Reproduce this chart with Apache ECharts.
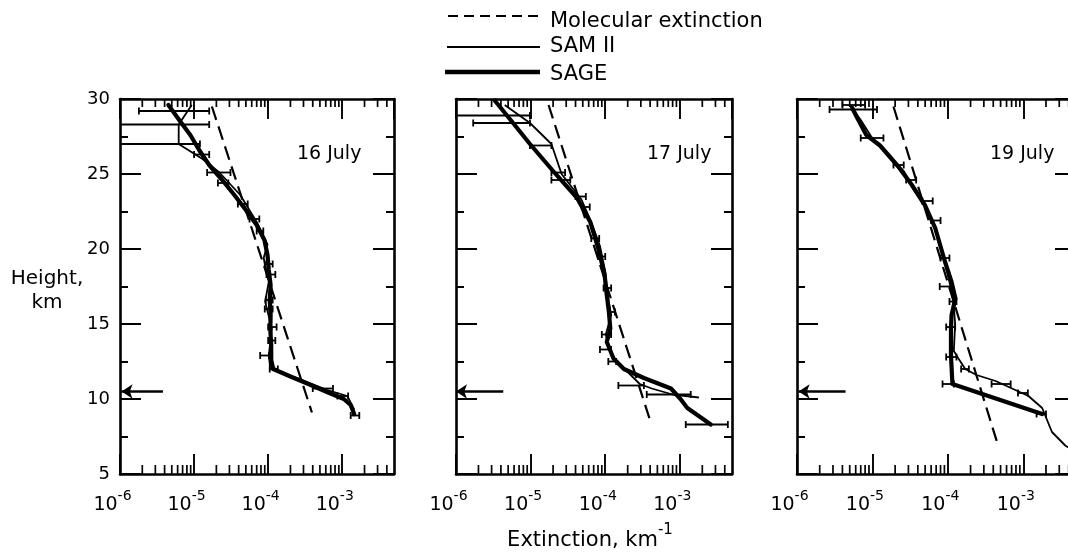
<!DOCTYPE html>
<html>
<head>
<meta charset="utf-8">
<title>Extinction profiles, 16-19 July</title>
<script src="https://cdn.jsdelivr.net/npm/echarts@6/dist/echarts.min.js"></script>
<style>
  html, body { margin: 0; padding: 0; background: #fff; }
  #chart { width: 1068px; height: 555px; }
</style>
</head>
<body>
<div id="chart"></div>
<script>
const panelTitles = ['16 July', '17 July', '19 July']
const xTickExps = [-6, -5, -4, -3]
const yTicks = [5, 10, 15, 20, 25, 30]
const legendLabels = ['Molecular extinction', 'SAM II', 'SAGE']

// tropopause arrow: [height km, from extinction, to extinction]
const tropopause = [[10.5, 3.8e-6, 1.05e-6], [10.5, 4.3e-6, 1.0e-6], [10.5, 4.4e-6, 1.05e-6]]

// profiles: [extinction km^-1, height km]
const molecular16 = [[1.74e-5, 29.5], [3.9e-4, 9.1]]
const molecular17 = [[1.74e-5, 29.6], [4.1e-4, 8.4]]
const molecular19 = [[1.9e-5, 29.5], [4.7e-4, 6.8]]

const sage16 = [[4.5e-6, 29.6], [6.3e-6, 28.6], [8.9e-6, 27.6], [1.17e-5, 26.6], [1.6e-5, 25.6],
  [2.4e-5, 24.6], [3.5e-5, 23.6], [5.0e-5, 22.6], [7.0e-5, 21.6], [8.9e-5, 20.6], [9.8e-5, 19.6],
  [1.02e-4, 18.6], [1.08e-4, 17.6], [1.05e-4, 16.6], [1.08e-4, 15.6], [1.07e-4, 14.6], [1.1e-4, 13.6],
  [1.1e-4, 12.6], [1.17e-4, 12.0], [2.0e-4, 11.5], [3.5e-4, 11.0], [6.0e-4, 10.5], [1.05e-3, 10.0],
  [1.3e-3, 9.6], [1.45e-3, 9.0]]
const sam16 = [[9.3e-6, 29.6], [6.2e-6, 28.3], [6.2e-6, 27.0], [1.3e-5, 26.0], [2.2e-5, 25.1],
  [4.2e-5, 23.6], [7.0e-5, 21.8], [9.8e-5, 20.3], [8.7e-5, 19.4], [1.02e-4, 17.8], [9.1e-5, 16.5],
  [1.12e-4, 14.7], [1.02e-4, 12.9], [1.07e-4, 12.0], [2.45e-4, 11.4], [6.3e-4, 10.6], [1.17e-3, 10.2],
  [1.45e-3, 9.3]]

const sage17 = [[3.3e-6, 29.9], [5.2e-6, 28.7], [9.8e-6, 27.0], [2.0e-5, 25.2], [4.2e-5, 23.4],
  [6.3e-5, 21.8], [8.1e-5, 20.0], [9.8e-5, 18.3], [1.05e-4, 16.9], [1.12e-4, 15.8], [1.17e-4, 14.7],
  [1.05e-4, 13.8], [1.29e-4, 12.7], [1.78e-4, 12.0], [3.3e-4, 11.4], [7.6e-4, 10.7], [1.02e-3, 10.0],
  [1.26e-3, 9.4], [2.6e-3, 8.3]]
const sam17 = [[4.5e-6, 29.6], [9.8e-6, 28.4], [1.9e-5, 27.0], [2.6e-5, 25.0], [4.8e-5, 23.3],
  [6.5e-5, 21.8], [8.5e-5, 20.2], [1.0e-4, 18.5], [1.07e-4, 17.0], [1.2e-4, 15.6], [1.02e-4, 14.3],
  [1.1e-4, 13.4], [1.4e-4, 12.5], [2.0e-4, 11.8], [2.9e-4, 11.0], [4.2e-4, 10.7], [8.0e-4, 10.3],
  [1.8e-3, 10.1]]

const sage19 = [[5.4e-6, 29.4], [6.2e-6, 28.8], [8.3e-6, 27.6], [1.26e-5, 26.9], [2.2e-5, 25.5],
  [3.3e-5, 24.3], [5.0e-5, 22.9], [6.8e-5, 21.4], [9.1e-5, 19.2], [1.12e-4, 17.8], [1.26e-4, 16.7],
  [1.12e-4, 15.6], [1.1e-4, 14.7], [1.1e-4, 12.9], [1.15e-4, 11.0], [1.78e-3, 9.0]]
const sam19 = [[5.0e-6, 29.6], [7.0e-6, 28.6], [1.05e-5, 27.2], [1.6e-5, 26.3], [2.6e-5, 25.2],
  [3.5e-5, 24.0], [5.3e-5, 22.6], [7.2e-5, 21.0], [8.9e-5, 19.4], [1.05e-4, 17.8], [1.18e-4, 16.6],
  [1.25e-4, 15.0], [1.2e-4, 13.2], [1.38e-4, 12.7], [1.7e-4, 12.0], [2.4e-4, 11.6], [4.3e-4, 11.2],
  [7.1e-4, 10.7], [1.17e-3, 10.2], [1.78e-3, 9.4], [2.4e-3, 7.8], [3.6e-3, 6.9], [5.5e-3, 6.3]]

// error bars: [height km, low, high]
const sageErr16 = [[29.2, 1.8e-6, 1.6e-5], [26.3, 1.0e-5, 1.6e-5], [24.4, 2.1e-5, 2.9e-5],
  [23.0, 3.9e-5, 5.3e-5], [21.2, 7.0e-5, 8.6e-5], [19.0, 9.0e-5, 1.15e-4], [16.6, 9.3e-5, 1.15e-4],
  [14.8, 1.0e-4, 1.3e-4], [12.9, 7.8e-5, 1.03e-4], [12.0, 1.05e-4, 1.35e-4], [10.2, 8.6e-4, 1.2e-3],
  [8.9, 1.3e-3, 1.7e-3]]
const samErr16 = [[28.3, 5e-7, 1.6e-5], [27.0, 5e-7, 1.2e-5], [25.1, 1.5e-5, 3.1e-5],
  [22.0, 5.6e-5, 7.6e-5], [18.3, 9.5e-5, 1.25e-4], [16.0, 9.0e-5, 1.15e-4], [13.9, 1.0e-4, 1.25e-4],
  [10.7, 4.0e-4, 7.5e-4]]
const sageErr17 = [[28.9, 5e-7, 9.8e-6], [28.4, 1.7e-6, 9.8e-6], [26.9, 9.8e-6, 1.9e-5],
  [24.6, 1.9e-5, 3.4e-5], [22.8, 5.0e-5, 6.2e-5], [20.7, 6.5e-5, 8.3e-5], [17.4, 9.5e-5, 1.2e-4],
  [14.3, 9.0e-5, 1.2e-4], [12.5, 1.1e-4, 1.4e-4], [10.9, 1.5e-4, 3.3e-4], [8.3, 1.2e-3, 4.4e-3]]
const samErr17 = [[25.1, 1.9e-5, 2.9e-5], [23.5, 4.0e-5, 5.5e-5], [19.5, 8.0e-5, 1.0e-4],
  [15.8, 1.1e-4, 1.35e-4], [13.3, 8.5e-5, 1.2e-4], [10.3, 3.6e-4, 1.4e-3]]
const sageErr19 = [[29.3, 2.7e-6, 1.15e-5], [27.4, 7.0e-6, 1.4e-5], [25.6, 1.9e-5, 2.6e-5],
  [23.2, 4.6e-5, 6.3e-5], [19.4, 8.0e-5, 1.05e-4], [17.5, 7.8e-5, 1.15e-4], [14.8, 9.5e-5, 1.25e-4],
  [12.8, 9.5e-5, 1.3e-4], [11.0, 8.5e-5, 1.2e-4], [9.0, 1.5e-3, 2.0e-3]]
const samErr19 = [[29.6, 4.0e-6, 8.0e-6], [24.6, 2.8e-5, 3.8e-5], [21.9, 6.0e-5, 8.0e-5],
  [16.5, 1.05e-4, 1.3e-4], [12.0, 1.5e-4, 1.9e-4], [11.0, 3.8e-4, 6.8e-4], [10.4, 8.5e-4, 1.15e-3]]

const panels = [
  { mol: molecular16, sage: sage16, sam: sam16, sageErr: sageErr16, samErr: samErr16 },
  { mol: molecular17, sage: sage17, sam: sam17, sageErr: sageErr17, samErr: samErr17 },
  { mol: molecular19, sage: sage19, sam: sam19, sageErr: sageErr19, samErr: samErr19 }
]

const FONT = 'DejaVu Sans'
const X_MIN = 1e-6
const X_MAX = 5e-3
const Y_MIN = yTicks[0]
const Y_MAX = yTicks[yTicks.length - 1]

const gridBoxes = [
  { left: 120, width: 274 },
  { left: 456, width: 276 },
  { left: 797, width: 279 }
]

// minor ticks at 2..9 x 10^n
const minorTickValues = []
xTickExps.forEach(e => {
  for (let m = 2; m <= 9; m++) {
    const v = m * Math.pow(10, e)
    if (v < X_MAX * 0.999) minorTickValues.push(v)
  }
})

function decadeLabel(v) {
  const e = Math.log10(v)
  const r = Math.round(e)
  if (Math.abs(e - r) > 0.01 || xTickExps.indexOf(r) < 0) return ''
  return '{b|10}{s|' + r + '}'
}

const supRich = {
  b: { fontSize: 19, fontFamily: FONT, color: '#000', lineHeight: 26, verticalAlign: 'bottom' },
  s: { fontSize: 14, fontFamily: FONT, color: '#000', verticalAlign: 'top' }
}

function renderMinorTick(params, api) {
  const v = api.value(0)
  const b = api.coord([v, Y_MIN])
  const t = api.coord([v, Y_MAX])
  const style = { stroke: '#000', lineWidth: 1.7 }
  return {
    type: 'group',
    children: [
      { type: 'line', shape: { x1: b[0], y1: b[1], x2: b[0], y2: b[1] - 9 }, style },
      { type: 'line', shape: { x1: t[0], y1: t[1], x2: t[0], y2: t[1] + 8 }, style }
    ]
  }
}

function renderErrBar(params, api) {
  const km = api.value(0)
  const p1 = api.coord([api.value(1), km])
  const p2 = api.coord([api.value(2), km])
  const left = params.coordSys.x
  const style = { stroke: '#000', lineWidth: 1.8 }
  const x1 = Math.max(p1[0], left)
  const children = [
    { type: 'line', shape: { x1: x1, y1: p1[1], x2: p2[0], y2: p2[1] }, style }
  ]
  if (p1[0] >= left) {
    children.push({ type: 'line', shape: { x1: p1[0], y1: p1[1] - 3.5, x2: p1[0], y2: p1[1] + 3.5 }, style })
  }
  children.push({ type: 'line', shape: { x1: p2[0], y1: p2[1] - 3.5, x2: p2[0], y2: p2[1] + 3.5 }, style })
  return { type: 'group', children }
}

const grid = []
const xAxis = []
const yAxis = []
const series = []

panels.forEach((p, i) => {
  grid.push({
    left: gridBoxes[i].left,
    top: 99,
    width: gridBoxes[i].width,
    height: 375,
    containLabel: false,
    outerBoundsMode: 'none'
  })

  const xBase = {
    type: 'log',
    logBase: 10,
    gridIndex: i,
    min: X_MIN,
    max: X_MAX,
    splitLine: { show: false },
    axisLine: { show: true, onZero: false, lineStyle: { color: '#000', width: 2.6 } },
    axisTick: { show: true, inside: true, length: 20, lineStyle: { color: '#000', width: 1.9 } }
  }
  xAxis.push(Object.assign({}, xBase, {
    position: 'bottom',
    axisLabel: {
      show: true,
      margin: 15,
      padding: [0, 15, 0, 0],
      formatter: decadeLabel,
      rich: supRich,
      showMinLabel: true,
      showMaxLabel: false
    }
  }))
  xAxis.push(Object.assign({}, xBase, {
    position: 'top',
    axisLabel: { show: false }
  }))

  const yBase = {
    type: 'value',
    gridIndex: i,
    min: Y_MIN,
    max: Y_MAX,
    interval: 5,
    splitLine: { show: false },
    axisLine: { show: true, onZero: false, lineStyle: { color: '#000', width: 2.6 } },
    axisTick: { show: true, inside: true, length: 21, lineStyle: { color: '#000', width: 2 } },
    minorTick: { show: true, splitNumber: 2, length: 8, lineStyle: { color: '#000', width: 2 } }
  }
  yAxis.push(Object.assign({}, yBase, {
    position: 'left',
    axisLabel: {
      show: i === 0,
      margin: 10,
      color: '#000',
      fontSize: 18,
      fontFamily: FONT
    }
  }))
  yAxis.push(Object.assign({}, yBase, {
    position: 'right',
    axisLabel: { show: false }
  }))

  const xi = i * 2
  const yi = i * 2
  const arrow = tropopause[i]

  series.push({
    type: 'line',
    name: legendLabels[0],
    xAxisIndex: xi,
    yAxisIndex: yi,
    data: p.mol,
    symbol: 'none',
    silent: true,
    lineStyle: { color: '#000', width: 2.2, type: [14, 7] },
    markLine: {
      silent: true,
      symbol: ['none', 'arrow'],
      symbolSize: 11,
      label: { show: false },
      lineStyle: { color: '#000', width: 2.6, type: 'solid' },
      data: [[{ coord: [arrow[1], arrow[0]] }, { coord: [arrow[2], arrow[0]] }]]
    }
  })
  series.push({
    type: 'line',
    name: legendLabels[1],
    xAxisIndex: xi,
    yAxisIndex: yi,
    data: p.sam,
    symbol: 'none',
    silent: true,
    lineStyle: { color: '#000', width: 1.8 }
  })
  series.push({
    type: 'line',
    name: legendLabels[2],
    xAxisIndex: xi,
    yAxisIndex: yi,
    data: p.sage,
    symbol: 'none',
    silent: true,
    z: 3,
    lineStyle: { color: '#000', width: 4.2, join: 'round', cap: 'round' }
  })
  series.push({
    type: 'custom',
    xAxisIndex: xi,
    yAxisIndex: yi,
    data: p.sageErr,
    encode: { x: [1, 2], y: 0 },
    renderItem: renderErrBar,
    silent: true
  })
  series.push({
    type: 'custom',
    xAxisIndex: xi,
    yAxisIndex: yi,
    data: p.samErr,
    encode: { x: [1, 2], y: 0 },
    renderItem: renderErrBar,
    silent: true
  })
  series.push({
    type: 'custom',
    xAxisIndex: xi,
    yAxisIndex: yi,
    data: minorTickValues.map(v => [v, Y_MIN]),
    encode: { x: 0, y: 1 },
    renderItem: renderMinorTick,
    silent: true
  })
})

const titleX = [297, 647, 990]

const graphic = [
  // legend
  { type: 'line', shape: { x1: 448, y1: 16, x2: 540, y2: 16 }, style: { stroke: '#000', lineWidth: 2, lineDash: [10, 6] } },
  { type: 'line', shape: { x1: 447, y1: 47, x2: 540, y2: 47 }, style: { stroke: '#000', lineWidth: 2 } },
  { type: 'line', shape: { x1: 445, y1: 72, x2: 540, y2: 72 }, style: { stroke: '#000', lineWidth: 4.5 } }
]
legendLabels.forEach((t, k) => {
  graphic.push({
    type: 'text',
    style: {
      text: t, x: 550, y: [22, 47, 75][k],
      fill: '#000', fontSize: 21, fontFamily: FONT,
      align: 'left', verticalAlign: 'middle',
      textAlign: 'left', textVerticalAlign: 'middle'
    }
  })
})
panelTitles.forEach((t, k) => {
  graphic.push({
    type: 'text',
    style: {
      text: t, x: titleX[k], y: 154,
      fill: '#000', fontSize: 19, fontFamily: FONT,
      align: 'left', verticalAlign: 'middle',
      textAlign: 'left', textVerticalAlign: 'middle'
    }
  })
})
graphic.push({
  type: 'text',
  style: {
    text: 'Height,\nkm', x: 47, y: 291,
    fill: '#000', fontSize: 20, fontFamily: FONT, lineHeight: 24,
    align: 'center', verticalAlign: 'middle',
    textAlign: 'center', textVerticalAlign: 'middle'
  }
})
graphic.push({
  type: 'text',
  style: {
    text: '{b|Extinction, km}{s|-1}', x: 590, y: 537,
    align: 'center', verticalAlign: 'middle',
    textAlign: 'center', textVerticalAlign: 'middle',
    rich: {
      b: { fontSize: 21, fontFamily: FONT, fill: '#000', color: '#000', lineHeight: 28, verticalAlign: 'bottom' },
      s: { fontSize: 15, fontFamily: FONT, fill: '#000', color: '#000', verticalAlign: 'top' }
    }
  }
})

const chart = echarts.init(document.getElementById('chart'), null, { renderer: 'canvas' })
chart.setOption({
  animation: false,
  backgroundColor: '#fff',
  textStyle: { fontFamily: FONT, color: '#000' },
  grid,
  xAxis,
  yAxis,
  series,
  graphic
})
</script>
</body>
</html>
